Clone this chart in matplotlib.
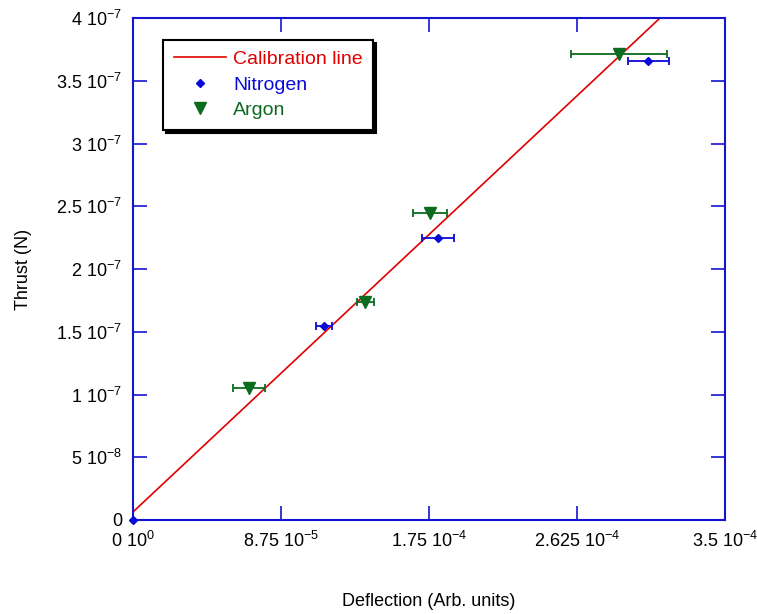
import matplotlib
matplotlib.use("Agg")
import matplotlib.pyplot as plt
from matplotlib.ticker import FixedLocator, FixedFormatter

plt.rcParams['font.family'] = ['Liberation Sans', 'DejaVu Sans']
plt.rcParams['mathtext.fontset'] = 'custom'
plt.rcParams['mathtext.rm'] = 'Liberation Sans'
plt.rcParams['mathtext.it'] = 'Liberation Sans'

# calibration line end points
calib_x = [0.0, 3.116e-4]
calib_y = [6.4e-9, 4.0e-7]

# nitrogen measurements
n2_x = [0.0, 1.129e-4, 1.803e-4, 3.045e-4]
n2_y = [0.0, 1.546e-7, 2.247e-7, 3.657e-7]
n2_xerr = [0.0, 4.7e-6, 9.5e-6, 1.21e-5]

# argon measurements
ar_x = [6.86e-5, 1.372e-4, 1.756e-4, 2.873e-4]
ar_y = [1.052e-7, 1.737e-7, 2.446e-7, 3.713e-7]
ar_xerr = [9.5e-6, 5.0e-6, 1.0e-5, 2.84e-5]

xticks = [0, 8.75e-5, 1.75e-4, 2.625e-4, 3.5e-4]
xlabels = [r'0 10$^{0}$', r'8.75 10$^{-5}$', r'1.75 10$^{-4}$',
           r'2.625 10$^{-4}$', r'3.5 10$^{-4}$']
yticks = [0, 5e-8, 1e-7, 1.5e-7, 2e-7, 2.5e-7, 3e-7, 3.5e-7, 4e-7]
ylabels = ['0', r'5 10$^{-8}$', r'1 10$^{-7}$', r'1.5 10$^{-7}$', r'2 10$^{-7}$',
           r'2.5 10$^{-7}$', r'3 10$^{-7}$', r'3.5 10$^{-7}$', r'4 10$^{-7}$']

RED = '#e00000'
BLUE = '#0a0ad8'
GREEN = '#0b6b1e'
AXBLUE = '#1414d2'

fig = plt.figure(figsize=(7.57, 6.14), dpi=100)
ax = fig.add_axes([133 / 757, 1 - 520 / 614, 592 / 757, 502 / 614])

ax.plot(calib_x, calib_y, color=RED, lw=1.2, label='Calibration line', zorder=2)
n2 = ax.errorbar(n2_x, n2_y, xerr=n2_xerr, fmt='D', color=BLUE, ms=4.5,
                 capsize=3, elinewidth=1.3, capthick=1.3, label='Nitrogen',
                 zorder=4, clip_on=False)
ar = ax.errorbar(ar_x, ar_y, xerr=ar_xerr, fmt='v', color=GREEN, ms=9,
                 capsize=3, elinewidth=1.3, capthick=1.3, label='Argon', zorder=3)

ax.set_xlim(0, 3.5e-4)
ax.set_ylim(0, 4e-7)
ax.xaxis.set_major_locator(FixedLocator(xticks))
ax.xaxis.set_major_formatter(FixedFormatter(xlabels))
ax.yaxis.set_major_locator(FixedLocator(yticks))
ax.yaxis.set_major_formatter(FixedFormatter(ylabels))
ax.tick_params(direction='in', length=10, width=1.2, color=AXBLUE,
               top=True, right=True, labelsize=13, pad=8)
for s in ax.spines.values():
    s.set_color(AXBLUE)
    s.set_linewidth(1.5)

ax.set_xlabel('Deflection (Arb. units)', fontsize=13, labelpad=30)
ax.set_ylabel('Thrust (N)', fontsize=13, labelpad=17)

# legend shows markers only, no error bars
handles = [ax.lines[0], n2.lines[0], ar.lines[0]]
labels = ['Calibration line', 'Nitrogen', 'Argon']
leg = ax.legend(handles, labels, loc='upper left', bbox_to_anchor=(30 / 592, 480 / 502),
                fontsize=14, fancybox=False, shadow={'color': 'black', 'alpha': 1},
                edgecolor='black', framealpha=1, handlelength=2.7, borderpad=0.55,
                labelspacing=0.4, handletextpad=0.35, borderaxespad=0)
leg.get_frame().set_linewidth(1.5)
for t, c in zip(leg.get_texts(), [RED, BLUE, GREEN]):
    t.set_color(c)

fig.savefig('out.png', dpi=100)
